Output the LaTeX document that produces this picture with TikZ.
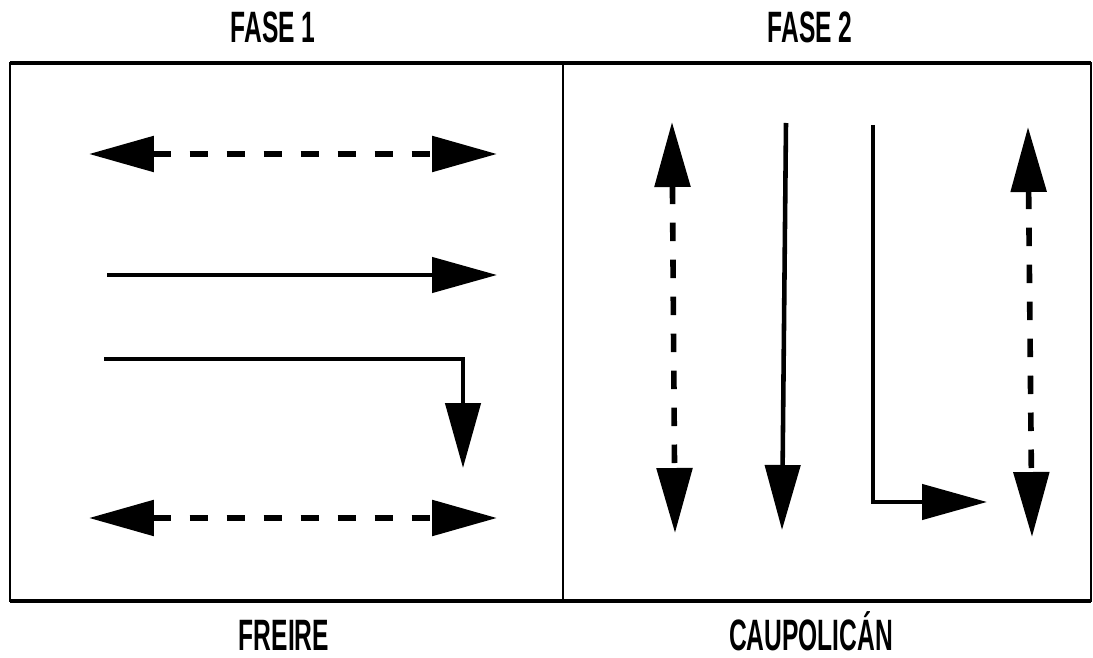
\documentclass[tikz,border=0pt]{standalone}
\usepackage{fontspec}
\setmainfont{Liberation Sans}
\usetikzlibrary{arrows.meta}

\tikzset{
  flow/.style={line width=2.6pt, -{Triangle[length=1.3cm,width=0.7cm]}},
  twoway/.style={line width=3.2pt, dash pattern=on 0.37cm off 0.37cm,
    {Triangle[length=1.3cm,width=0.7cm]}-{Triangle[length=1.3cm,width=0.7cm]}},
  caption/.style={font=\bfseries\fontsize{25}{28}\selectfont, xscale=0.56,
    inner sep=0pt, text depth=0pt, anchor=base},
}

\begin{document}
\begin{tikzpicture}[x=0.02cm, y=-0.02cm, line join=miter]
\useasboundingbox (0,0) rectangle (1093,658);

% frame and divider
\draw[line width=1.2pt] (10,63) rectangle (1091,601);
\draw[line width=2pt] (10,63) -- (1091,63);
\draw[line width=2pt] (10,601) -- (1091,601);
\draw[line width=1.2pt] (563,63) -- (563,601);

% labels
\node[caption] (fase1) at (273,43) {FASE 1};
\node[caption] (fase2) at (810,43) {FASE 2};
\node[caption] (freire) at (284,651) {FREIRE};
\node[caption] (caupolican) at (811,651) {CAUPOLICÁN};

% FREIRE
\coordinate (f1a) at (89,154);
\coordinate (f1b) at (497,154);
\coordinate (f2a) at (107,275);
\coordinate (f2b) at (497,275);
\coordinate (f3a) at (104,359);
\coordinate (f3c) at (463,359);
\coordinate (f3b) at (463,468);
\coordinate (f4a) at (89,518);
\coordinate (f4b) at (497,518);

\draw[twoway] (f1a) -- (f1b);
\draw[flow] (f2a) -- (f2b);
\draw[flow] (f3a) -- (f3c) -- (f3b);
\draw[twoway] (f4a) -- (f4b);

% CAUPOLICAN
\coordinate (c1a) at (672,122);
\coordinate (c1b) at (675,533);
\coordinate (c2a) at (786,123);
\coordinate (c2b) at (782,530);
\coordinate (c3a) at (873,125);
\coordinate (c3c) at (873,502);
\coordinate (c3b) at (987,502);
\coordinate (c4a) at (1028,127);
\coordinate (c4b) at (1032,537);

\draw[twoway] (c1a) -- (c1b);
\draw[flow] (c2a) -- (c2b);
\draw[flow] (c3a) -- (c3c) -- (c3b);
\draw[twoway] (c4a) -- (c4b);
\end{tikzpicture}
\end{document}
